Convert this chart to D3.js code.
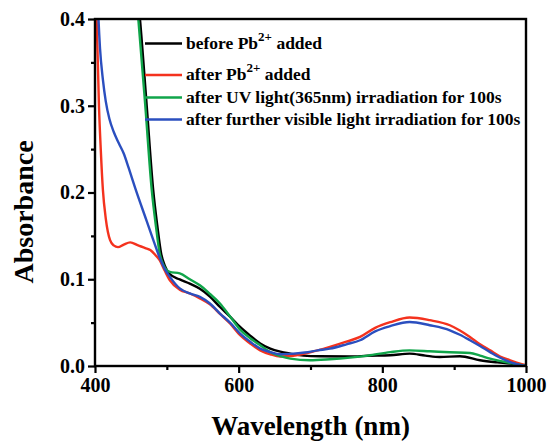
<!DOCTYPE html>
<html>
<head>
<meta charset="utf-8">
<script src="https://cdn.jsdelivr.net/npm/d3@7"></script>
<style>
  body { margin: 0; background: #fff; }
  text { font-family: "Liberation Serif", "Times New Roman", serif; font-weight: bold; fill: #000; }
</style>
</head>
<body>
<svg id="chart" width="550" height="441"></svg>
<script>
// UV-vis absorption spectra (wavelength in nm, absorbance)
const wlBefore  = [458, 462.6, 472, 481, 487, 492, 497, 504, 518, 532, 546, 560, 574, 588, 602, 616, 630, 644, 658, 672, 690, 713, 755, 780, 811, 838, 860, 880, 908, 936, 960, 978, 1000];
const absBefore = [0.44, 0.40, 0.30, 0.203, 0.160, 0.130, 0.116, 0.106, 0.0998, 0.095, 0.089, 0.080, 0.068, 0.057, 0.045, 0.035, 0.026, 0.020, 0.0165, 0.0143, 0.012, 0.0112, 0.011, 0.0118, 0.0124, 0.0143, 0.012, 0.0104, 0.0112, 0.0066, 0.0042, 0.0028, 0.0];

const wlPb  = [400, 402.3, 405.5, 408, 411, 415, 421, 426, 432, 440, 449, 460, 470, 477, 484, 490, 497, 504, 518, 532, 546, 560, 574, 588, 602, 616, 630, 644, 658, 672, 692, 710, 727, 750, 769, 790, 811, 838, 866, 894, 908, 922, 936, 950, 964, 978, 1000];
const absPb = [0.43, 0.40, 0.30, 0.25, 0.203, 0.170, 0.145, 0.139, 0.137, 0.140, 0.1425, 0.139, 0.136, 0.1336, 0.128, 0.122, 0.110, 0.099, 0.088, 0.0836, 0.078, 0.071, 0.060, 0.049, 0.0355, 0.026, 0.018, 0.0135, 0.011, 0.0115, 0.0143, 0.018, 0.022, 0.028, 0.0335, 0.044, 0.0505, 0.0559, 0.0528, 0.047, 0.041, 0.0335, 0.025, 0.018, 0.011, 0.0066, 0.0008];

const wlUV  = [456, 460.3, 470, 479, 485, 490, 495, 504, 518, 532, 546, 560, 574, 588, 602, 616, 630, 644, 658, 672, 699, 727, 755, 780, 811, 838, 866, 894, 922, 936, 950, 978, 1000];
const absUV = [0.44, 0.40, 0.30, 0.203, 0.160, 0.130, 0.117, 0.1085, 0.1067, 0.100, 0.093, 0.083, 0.072, 0.057, 0.042, 0.032, 0.024, 0.016, 0.0115, 0.0085, 0.0066, 0.0078, 0.0097, 0.012, 0.016, 0.018, 0.017, 0.0158, 0.015, 0.012, 0.0085, 0.0035, 0.0];

const wlVis  = [403, 404.6, 407, 411, 415, 420, 426, 433, 440, 447, 456, 472, 480, 490, 497, 504, 518, 532, 546, 560, 574, 588, 602, 616, 630, 644, 658, 672, 692, 710, 727, 750, 769, 790, 811, 838, 866, 894, 908, 922, 936, 950, 964, 978, 1000];
const absVis = [0.44, 0.405, 0.366, 0.33, 0.305, 0.285, 0.27, 0.257, 0.245, 0.228, 0.205, 0.167, 0.148, 0.125, 0.112, 0.103, 0.0894, 0.0836, 0.0797, 0.072, 0.0605, 0.050, 0.0374, 0.028, 0.020, 0.016, 0.0135, 0.014, 0.0155, 0.018, 0.020, 0.025, 0.0297, 0.040, 0.046, 0.0508, 0.047, 0.0412, 0.036, 0.0297, 0.023, 0.016, 0.0095, 0.0046, 0.0];

const seriesColors = ["#000000", "#f4321e", "#10a54a", "#2b4fbf"];
const legendLabels = [
  [["before Pb", false], ["2+", true], [" added", false]],
  [["after Pb", false], ["2+", true], [" added", false]],
  [["after UV light(365nm) irradiation for 100s", false]],
  [["after further visible light irradiation for 100s", false]]
];

const xMajor = [400, 600, 800, 1000];
const xMinor = [500, 700, 900];
const yMajor = [0.0, 0.1, 0.2, 0.3, 0.4];
const yMinor = [0.05, 0.15, 0.25, 0.35];

const series = [
  d3.zip(wlBefore, absBefore),
  d3.zip(wlPb, absPb),
  d3.zip(wlUV, absUV),
  d3.zip(wlVis, absVis)
];

const svg = d3.select("#chart");
const W = 550, H = 441;
const m = { left: 95, right: 24, top: 19, bottom: 75 };

const x = d3.scaleLinear().domain([400, 1000]).range([m.left, W - m.right]);
const y = d3.scaleLinear().domain([0, 0.4]).range([H - m.bottom, m.top]);

svg.append("defs").append("clipPath").attr("id", "plot-area")
  .append("rect")
  .attr("x", m.left).attr("y", m.top)
  .attr("width", W - m.left - m.right).attr("height", H - m.top - m.bottom);

// spectra
const line = d3.line()
  .x(d => x(d[0]))
  .y(d => y(d[1]))
  .curve(d3.curveMonotoneX);

svg.append("g").attr("clip-path", "url(#plot-area)")
  .selectAll("path").data(series).join("path")
  .attr("d", line)
  .attr("fill", "none")
  .attr("stroke", (d, i) => seriesColors[i])
  .attr("stroke-width", 2.4)
  .attr("stroke-linejoin", "round");

// axes
const fmtY = d3.format(".1f");
function styleAxis(g) {
  g.select(".domain").remove();
  g.selectAll(".tick line").attr("stroke", "#000").attr("stroke-width", 2.2);
  g.selectAll(".tick text").style("font-size", "20px");
}

svg.append("g").attr("transform", `translate(0,${y(0)})`)
  .call(d3.axisBottom(x).tickValues(xMajor).tickSize(7).tickPadding(5).tickFormat(d3.format("d")))
  .call(styleAxis);
svg.append("g").attr("transform", `translate(0,${y(0)})`)
  .call(d3.axisBottom(x).tickValues(xMinor).tickSize(4).tickFormat(""))
  .call(styleAxis);
svg.append("g").attr("transform", `translate(${x(400)},0)`)
  .call(d3.axisLeft(y).tickValues(yMajor).tickSize(7).tickPadding(3).tickFormat(fmtY))
  .call(styleAxis);
svg.append("g").attr("transform", `translate(${x(400)},0)`)
  .call(d3.axisLeft(y).tickValues(yMinor).tickSize(4).tickFormat(""))
  .call(styleAxis);

// frame
svg.append("rect")
  .attr("x", x(400)).attr("y", y(0.4))
  .attr("width", x(1000) - x(400)).attr("height", y(0) - y(0.4))
  .attr("fill", "none").attr("stroke", "#000").attr("stroke-width", 2.4);

// axis titles
svg.append("text")
  .attr("x", (x(400) + x(1000)) / 2).attr("y", 435)
  .attr("text-anchor", "middle").style("font-size", "27px")
  .text("Wavelength (nm)");
svg.append("text")
  .attr("transform", `translate(33,${212}) rotate(-90)`)
  .attr("text-anchor", "middle").style("font-size", "28px")
  .text("Absorbance");

// legend
const legendRows = [43.5, 75, 97.5, 119.5];
const lg = svg.append("g");
legendLabels.forEach((parts, i) => {
  const ry = legendRows[i];
  lg.append("line")
    .attr("x1", 145).attr("x2", 182).attr("y1", ry).attr("y2", ry)
    .attr("stroke", seriesColors[i]).attr("stroke-width", 2.4);
  const t = lg.append("text").attr("x", 186).attr("y", ry + 5).style("font-size", "17.5px");
  parts.forEach(([s, sup], k) => {
    const ts = t.append("tspan").text(s);
    if (sup) ts.attr("dy", -8).style("font-size", "13px");
    else if (k > 0) ts.attr("dy", 8);
  });
});
</script>
</body>
</html>
